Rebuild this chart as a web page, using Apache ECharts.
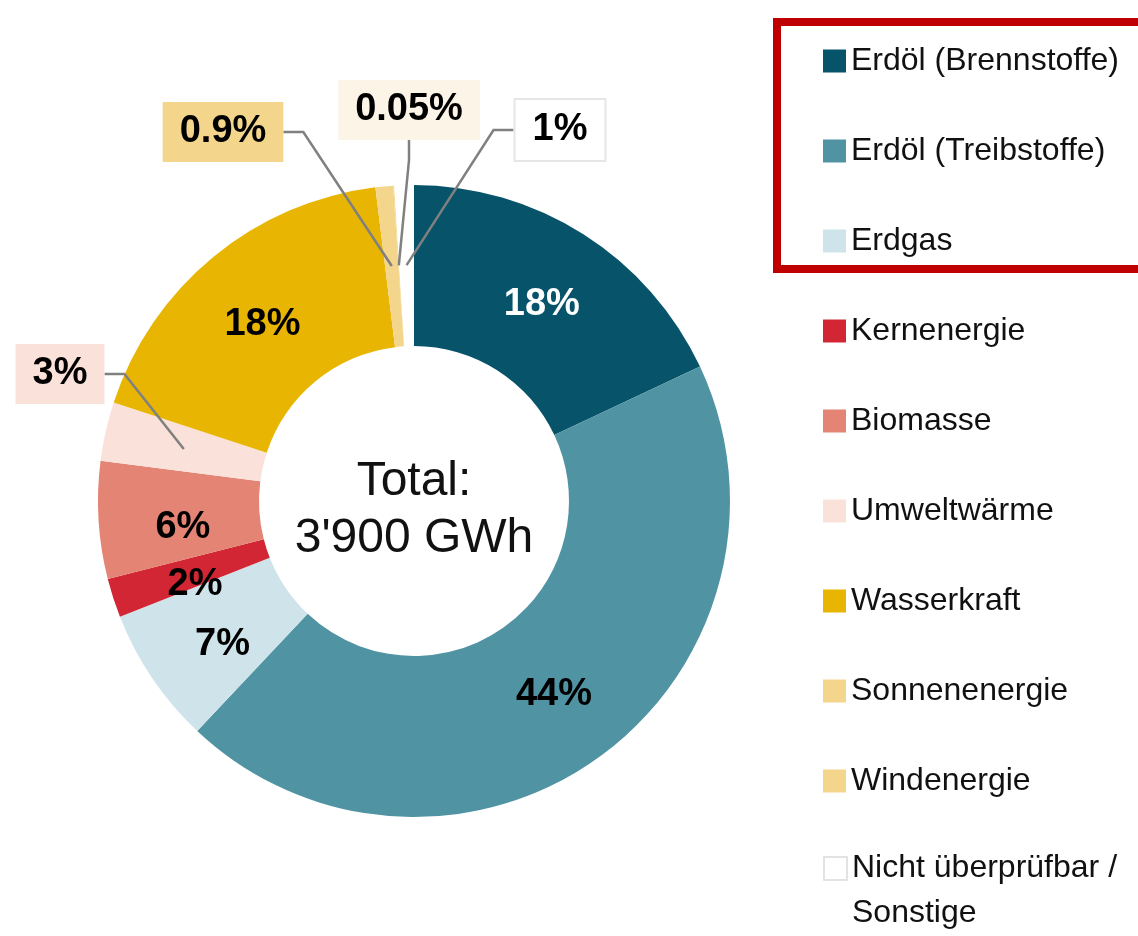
<!DOCTYPE html>
<html lang="de">
<head>
<meta charset="utf-8">
<title>Energieverbrauch nach Energieträger</title>
<script src="https://cdn.jsdelivr.net/npm/echarts@6/dist/echarts.min.js"></script>
<style>
  html, body { margin: 0; padding: 0; background: #fff; }
  #chart { width: 1138px; height: 936px; }
</style>
</head>
<body>
<div id="chart"></div>
<script>
// --- 1. Daten ---

// Energieträger (Reihenfolge im Uhrzeigersinn ab 12 Uhr)
const categories = [
  'Erdöl (Brennstoffe)',
  'Erdöl (Treibstoffe)',
  'Erdgas',
  'Kernenergie',
  'Biomasse',
  'Umweltwärme',
  'Wasserkraft',
  'Sonnenenergie',
  'Windenergie',
  'Nicht überprüfbar / Sonstige',
]

// Anteile in %
const shares = [18, 44, 7, 2, 6, 3, 18, 0.9, 0.05, 1]

// Farben der Segmente
const colors = [
  '#07536a', '#5094a4', '#cfe4ea', '#d22635', '#e38474',
  '#fae1da', '#e8b502', '#f4d58c', '#f4d58c', '#ffffff',
]

const centerText = "Total:\n3'900 GWh"

// --- 2. Layout ---

const CX = 414
const CY = 501
const R_INNER = 155
const R_OUTER = 316
const R_MID = Math.round((R_INNER + R_OUTER) / 2)
const FONT = '"Liberation Sans", Arial, sans-serif'

// kleine Verschiebung der Innen-Beschriftungen (wie im Original gesetzt)
const labelOffsets = [[0, 5], [0, 0], [6, 10], [8, 10], [7, 12], [0, 0], [0, 8]]

// Kästchen für kleine Segmente (Mittelpunkt der Beschriftung)
const callouts = {
  5: { x: 60, y: 374, bg: '#fae1da' },
  7: { x: 223, y: 132, bg: '#f4d58c' },
  8: { x: 409, y: 110, bg: '#fcf4e6' },
  9: { x: 560, y: 130, bg: '#ffffff', border: '#e6e6e6' },
}

const labelFont = { fontFamily: FONT, fontSize: 38, fontWeight: 'bold', color: '#000' }

// Ring: Beschriftung innen für die grossen Segmente
const ringData = categories.map((name, i) => ({
  name: name,
  value: shares[i],
  itemStyle: { color: colors[i] },
  label: {
    show: !callouts[i],
    color: i === 0 ? '#fff' : '#000',
    offset: labelOffsets[i] || [0, 0],
  },
}))

// unsichtbarer Kreis bis zur Ringmitte: trägt die Kästchen + Linien
const calloutData = categories.map((name, i) => {
  const c = callouts[i]
  return {
    name: name,
    value: shares[i],
    label: c
      ? { show: true, backgroundColor: c.bg, borderColor: c.border || c.bg, borderWidth: c.border ? 2 : 0 }
      : { show: false },
    labelLine: { show: !!c },
  }
})

// --- 3. Chart ---

const chart = echarts.init(document.getElementById('chart'), null, { renderer: 'canvas' })

const legendText = { fontFamily: FONT, fontSize: 32, color: '#111' }

chart.setOption({
  animation: false,
  backgroundColor: '#fff',
  legend: [
    {
      orient: 'vertical',
      left: 818,
      top: 40,
      itemWidth: 23,
      itemHeight: 23,
      itemGap: 58,
      icon: 'rect',
      selectedMode: false,
      textStyle: legendText,
      data: categories.slice(0, 9),
    },
    {
      orient: 'vertical',
      left: 818,
      top: 796,
      itemWidth: 23,
      itemHeight: 23,
      icon: 'rect',
      selectedMode: false,
      textStyle: Object.assign({}, legendText, { lineHeight: 45 }),
      // Leerzeile oben, damit die erste Zeile neben dem Symbol steht
      formatter: (name) => '\n' + name.replace('/ ', '/\n'),
      data: [
        {
          name: categories[9],
          itemStyle: { color: '#fff', borderColor: '#e3e3e3', borderWidth: 2 },
        },
      ],
    },
  ],
  graphic: [
    {
      type: 'rect',
      shape: { x: 777, y: 22, width: 366, height: 247 },
      style: { fill: 'none', stroke: '#c00000', lineWidth: 8 },
      silent: true,
    },
    {
      type: 'text',
      x: CX,
      y: 510,
      style: {
        text: centerText,
        align: 'center',
        verticalAlign: 'middle',
        font: '48px ' + FONT,
        lineHeight: 57,
        fill: '#111',
      },
      silent: true,
    },
  ],
  series: [
    {
      name: 'Energieträger',
      type: 'pie',
      center: [CX, CY],
      radius: [R_INNER, R_OUTER],
      startAngle: 90,
      clockwise: true,
      avoidLabelOverlap: false,
      silent: true,
      itemStyle: { borderWidth: 0 },
      label: Object.assign({ position: 'inside', formatter: (p) => p.value + '%' }, labelFont),
      labelLine: { show: false },
      data: ringData,
    },
    {
      name: 'Beschriftung',
      type: 'pie',
      z: 3,
      center: [CX, CY],
      radius: [0, R_MID],
      startAngle: 90,
      clockwise: true,
      avoidLabelOverlap: false,
      silent: true,
      itemStyle: { color: 'rgba(0,0,0,0)', borderWidth: 0 },
      label: Object.assign({ position: 'outside', padding: [11, 17], formatter: (p) => p.value + '%' }, labelFont),
      labelLine: { length: 10, length2: 20, minTurnAngle: 0, lineStyle: { color: '#808080', width: 2.5 } },
      labelLayout: (params) => {
        const c = callouts[params.dataIndex]
        if (!c) return {}
        return { x: c.x, y: c.y, align: 'center', verticalAlign: 'middle' }
      },
      data: calloutData,
    },
  ],
})
</script>
</body>
</html>
